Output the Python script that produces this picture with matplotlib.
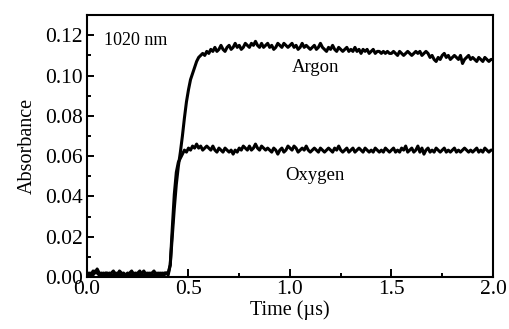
import numpy as np
import matplotlib
matplotlib.use('Agg')
import matplotlib.pyplot as plt
from matplotlib.ticker import MultipleLocator

# time axis, 0.01 us steps
time_us = np.round(np.arange(0, 2.001, 0.01), 2)

argon = [
    # 0.00 - 0.40 baseline
    0.001, 0.002, 0.001, 0.003, 0.002, 0.004, 0.002, 0.001, 0.002, 0.001,
    0.001, 0.002, 0.001, 0.001, 0.002, 0.001, 0.003, 0.002, 0.001, 0.001,
    0.002, 0.001, 0.001, 0.002, 0.001, 0.002, 0.003, 0.001, 0.001, 0.002,
    0.001, 0.002, 0.001, 0.001, 0.002, 0.001, 0.002, 0.001, 0.002, 0.002,
    0.002,
    # 0.41 - 0.59 rise
    0.006, 0.020, 0.034, 0.046, 0.055, 0.062, 0.070, 0.079, 0.087,
    0.093, 0.098, 0.101, 0.104, 0.107, 0.109, 0.110, 0.111, 0.110, 0.112,
    # 0.60 - 2.00
    0.111, 0.113, 0.112, 0.114, 0.112, 0.113, 0.115, 0.113, 0.112, 0.114,
    0.115, 0.113, 0.114, 0.116, 0.114, 0.115, 0.113, 0.114, 0.116, 0.115,
    0.114, 0.116, 0.115, 0.117, 0.115, 0.114, 0.116, 0.114, 0.115, 0.116,
    0.114, 0.115, 0.113, 0.114, 0.116, 0.115, 0.114, 0.116, 0.115, 0.114,
    0.115, 0.116, 0.114, 0.115, 0.113, 0.114, 0.116, 0.114, 0.115, 0.114,
    0.113, 0.114, 0.115, 0.113, 0.114, 0.116, 0.114, 0.113, 0.112, 0.114,
    0.113, 0.115, 0.113, 0.112, 0.114, 0.113, 0.112, 0.113, 0.114, 0.112,
    0.113, 0.112, 0.114, 0.112, 0.113, 0.111, 0.113, 0.112, 0.113, 0.111,
    0.112, 0.113, 0.111, 0.112, 0.112, 0.111, 0.112, 0.111, 0.112, 0.111,
    0.111, 0.112, 0.111, 0.110, 0.112, 0.111, 0.110, 0.111, 0.112, 0.111,
    0.110, 0.111, 0.112, 0.111, 0.112, 0.110, 0.111, 0.112, 0.111, 0.109,
    0.110, 0.108, 0.107, 0.109, 0.108, 0.110, 0.111, 0.109, 0.110, 0.108,
    0.109, 0.110, 0.109, 0.108, 0.110, 0.106, 0.108, 0.109, 0.110, 0.108,
    0.109, 0.108, 0.107, 0.109, 0.108, 0.107, 0.109, 0.108, 0.107, 0.108,
    0.108,
]

oxygen = [
    # 0.00 - 0.40 baseline
    0.002, 0.001, 0.002, 0.001, 0.003, 0.002, 0.001, 0.002, 0.001, 0.002,
    0.002, 0.001, 0.002, 0.003, 0.001, 0.002, 0.001, 0.001, 0.002, 0.001,
    0.001, 0.002, 0.003, 0.001, 0.002, 0.001, 0.001, 0.002, 0.003, 0.001,
    0.002, 0.001, 0.002, 0.003, 0.001, 0.002, 0.001, 0.002, 0.001, 0.002,
    0.001,
    # 0.41 - 0.49 rise
    0.006, 0.024, 0.041, 0.052, 0.057, 0.059, 0.061, 0.063, 0.062,
    # 0.50 - 2.00
    0.064, 0.063, 0.065, 0.064, 0.066, 0.064, 0.065, 0.063, 0.064, 0.065,
    0.064, 0.063, 0.065, 0.063, 0.062, 0.064, 0.063, 0.062, 0.064, 0.063,
    0.062, 0.063, 0.061, 0.063, 0.062, 0.064, 0.063, 0.065, 0.064, 0.063,
    0.065, 0.063, 0.064, 0.066, 0.064, 0.063, 0.065, 0.064, 0.063, 0.064,
    0.063, 0.062, 0.064, 0.063, 0.061, 0.063, 0.064, 0.062, 0.063, 0.065,
    0.064, 0.063, 0.065, 0.064, 0.062, 0.063, 0.064, 0.063, 0.065, 0.063,
    0.062, 0.063, 0.064, 0.063, 0.062, 0.064, 0.063, 0.062, 0.063, 0.064,
    0.063, 0.062, 0.064, 0.063, 0.065, 0.063, 0.062, 0.063, 0.064, 0.062,
    0.063, 0.064, 0.062, 0.063, 0.064, 0.063, 0.062, 0.064, 0.063, 0.062,
    0.063, 0.062, 0.064, 0.063, 0.062, 0.063, 0.062, 0.064, 0.063, 0.062,
    0.063, 0.064, 0.062, 0.063, 0.062, 0.064, 0.063, 0.065, 0.062, 0.063,
    0.064, 0.062, 0.063, 0.065, 0.062, 0.064, 0.061, 0.063, 0.064, 0.062,
    0.063, 0.062, 0.064, 0.063, 0.062, 0.063, 0.064, 0.062, 0.063, 0.062,
    0.063, 0.064, 0.062, 0.063, 0.062, 0.063, 0.064, 0.063, 0.062, 0.063,
    0.062, 0.063, 0.064, 0.062, 0.063, 0.062, 0.064, 0.063, 0.062, 0.063,
    0.063,
]

plt.rcParams['font.family'] = ['Liberation Serif', 'DejaVu Serif']

fig = plt.figure(figsize=(5.10, 3.29), dpi=100)
ax = fig.add_axes([0.1706, 0.158, 0.796, 0.796])

ax.plot(time_us, argon, color='black', lw=2.2)
ax.plot(time_us, oxygen, color='black', lw=2.2)

ax.set_xlim(0, 2.0)
ax.set_ylim(0, 0.13)
ax.xaxis.set_major_locator(MultipleLocator(0.5))
ax.xaxis.set_minor_locator(MultipleLocator(0.25))
ax.yaxis.set_minor_locator(MultipleLocator(0.01))
ax.set_yticks(np.arange(0, 0.121, 0.02))
ax.xaxis.set_major_formatter(matplotlib.ticker.FormatStrFormatter('%.1f'))
ax.yaxis.set_major_formatter(matplotlib.ticker.FormatStrFormatter('%.2f'))

ax.tick_params(which='both', direction='in', top=False, right=False, labelsize=15.5, width=1.4)
ax.tick_params(axis='x', which='major', length=6, pad=2)
ax.tick_params(axis='y', which='major', length=5, pad=3)
ax.tick_params(which='minor', length=3)
for s in ax.spines.values():
    s.set_linewidth(1.5)

ax.set_xlabel('Time (µs)', fontsize=14.5, labelpad=1)
ax.set_ylabel('Absorbance', fontsize=14.5, labelpad=6)

ax.text(0.085, 0.1175, '1020 nm', fontsize=13, va='center', ha='left')
ax.text(1.125, 0.1040, 'Argon', fontsize=13.5, va='center', ha='center')
ax.text(1.125, 0.0505, 'Oxygen', fontsize=13.5, va='center', ha='center')

fig.savefig('out.png', dpi=100)
